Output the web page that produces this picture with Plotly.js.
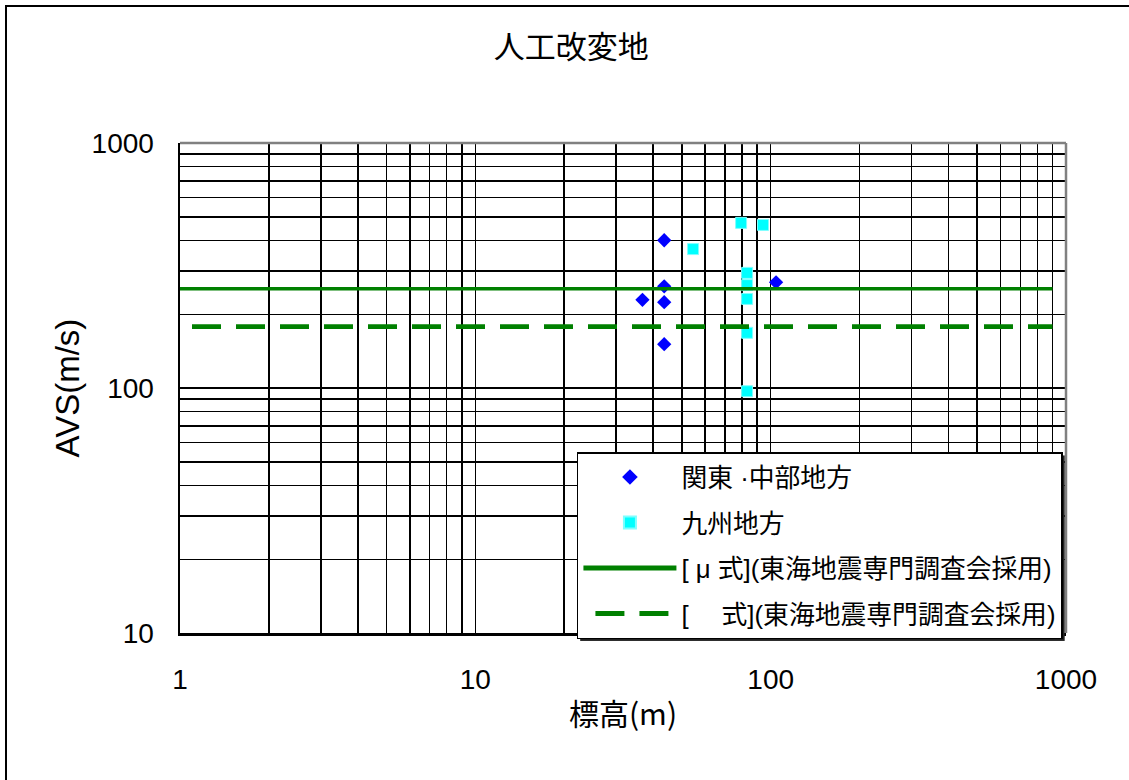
<!DOCTYPE html>
<html>
<head>
<meta charset="utf-8">
<script src="https://cdn.plot.ly/plotly-3.0.1.min.js"></script>
<style>
  html, body { margin: 0; padding: 0; background: #fff; }
  #chart { width: 1129px; height: 780px; position: relative; }
  #frame { position: absolute; left: 5px; top: 5px; width: 1200px; height: 900px;
           border-left: 2px solid #000; border-top: 2px solid #000; pointer-events: none; }
  #wrap { position: relative; width: 1129px; height: 780px; overflow: hidden; }
</style>
</head>
<body>
<div id="wrap">
  <div id="chart"></div>
  <div id="frame"></div>
</div>
<script>
// ---- data ----
const kantoElev = [43.6, 43.6, 36.8, 43.6, 43.6, 104.3];
const kantoAVS  = [401, 260, 229, 224, 151, 270];

const kyushuElev = [79.4, 94.2, 54.6, 83.2, 83.2, 83.2, 83.2, 83.2];
const kyushuAVS  = [472, 463, 369, 295, 263, 231, 168, 97];

const lineX = [1, 900];
const muLine = [254, 254];
const otherLine = [178, 178];

const seriesNames = [
  '関東 ·中部地方',
  '九州地方',
  '[ μ 式](東海地震専門調査会採用)',
  '[　 式](東海地震専門調査会採用)'
];
const titleText = '人工改変地';
const xTitle = '標高(m)';
const yTitle = 'AVS(m/s)';
const xTickVals = [1, 10, 100, 1000];
const yTickVals = [10, 100, 1000];
const xMinorVals = [2,3,4,5,6,7,8,9,20,30,40,50,60,70,80,90,200,300,400,500,600,700,800,900];
const yMinorVals = [20,30,40,50,60,70,80,90,200,300,400,500,600,700,800,900];

const fontFam = '"Liberation Sans", Arial, "Noto Sans CJK JP", sans-serif';
const cjkFam = '"Noto Sans CJK JP", sans-serif';

const traces = [
  { x: kantoElev, y: kantoAVS, name: seriesNames[0], mode: 'markers', type: 'scatter',
    legendgroup: 'a',
    marker: { symbol: 'diamond', size: 11, color: '#0000FF', line: { width: 0 } } },
  { x: kyushuElev, y: kyushuAVS, name: seriesNames[1], mode: 'markers', type: 'scatter',
    legendgroup: 'b',
    marker: { symbol: 'square', size: 11, color: '#00FFFF', line: { width: 1, color: '#7FFFFF' } } },
  { x: lineX, y: muLine, name: seriesNames[2], mode: 'lines', type: 'scatter',
    legendgroup: 'c',
    line: { color: '#008000', width: 3.5 } },
  { x: lineX, y: otherLine, name: seriesNames[3], mode: 'lines', type: 'scatter',
    legendgroup: 'd',
    line: { color: '#008000', width: 4.7, dash: '0px,12px,29px,3px' } }
];

const gridCol = '#000000';
const layout = {
  width: 1129, height: 780,
  margin: { l: 180, r: 63, t: 143, b: 147 },
  paper_bgcolor: '#ffffff', plot_bgcolor: '#ffffff',
  font: { family: fontFam, color: '#000' },
  showlegend: true,
  title: { text: titleText, font: { size: 31, family: cjkFam },
           x: 0.506, xref: 'container', xanchor: 'center',
           y: 1 - 47/780, yref: 'container', yanchor: 'middle' },
  xaxis: {
    type: 'log', range: [0, 3],
    tickmode: 'array', tickvals: xTickVals, ticktext: xTickVals.map(String),
    showgrid: true, gridcolor: gridCol, gridwidth: 1.5,
    minor: { tickmode: 'array', tickvals: xMinorVals, showgrid: true, gridcolor: gridCol, gridwidth: 1.5, ticks: '' },
    showline: true, linecolor: '#000', linewidth: 2.5,
    ticks: '', ticklabelstandoff: 20,
    tickfont: { size: 28, family: fontFam },
    zeroline: false,
    title: { text: xTitle, font: { size: 30, family: cjkFam }, standoff: 10 }
  },
  yaxis: {
    type: 'log', range: [1, 3],
    tickmode: 'array', tickvals: yTickVals, ticktext: yTickVals.map(String),
    showgrid: true, gridcolor: gridCol, gridwidth: 1.5,
    minor: { tickmode: 'array', tickvals: yMinorVals, showgrid: true, gridcolor: gridCol, gridwidth: 1.5, ticks: '' },
    showline: true, linecolor: '#000', linewidth: 2.5,
    ticks: '', ticklabelstandoff: 18,
    tickfont: { size: 28, family: fontFam },
    zeroline: false,
    title: { text: yTitle, font: { size: 33, family: fontFam }, standoff: 2 }
  },
  legend: {
    x: 0.448, xanchor: 'left', y: 0.369, yanchor: 'top',
    bgcolor: '#ffffff', bordercolor: '#000', borderwidth: 1.5,
    font: { size: 25.8, family: '"Liberation Sans", "Noto Sans CJK JP", sans-serif' },
    traceorder: 'grouped', tracegroupgap: 9, itemwidth: 93, itemsizing: 'constant'
  },
  shapes: [
    { type: 'line', xref: 'paper', yref: 'paper', x0: 0, x1: 1, y0: 1, y1: 1,
      line: { color: '#808080', width: 2.5 }, layer: 'above' },
    { type: 'line', xref: 'paper', yref: 'paper', x0: 1, x1: 1, y0: 0, y1: 1,
      line: { color: '#808080', width: 2.5 }, layer: 'above' }
  ]
};

Plotly.newPlot('chart', traces, layout, { displayModeBar: false, staticPlot: true }).then(function (gd) {
  // legend drop shadow (decoration)
  const bg = gd.querySelector('.legend rect.bg');
  if (bg) {
    const ns = 'http://www.w3.org/2000/svg';
    const sh = document.createElementNS(ns, 'rect');
    const w = parseFloat(bg.getAttribute('width'));
    const h = parseFloat(bg.getAttribute('height'));
    sh.setAttribute('x', (parseFloat(bg.getAttribute('x')) || 0) + 2.5);
    sh.setAttribute('y', (parseFloat(bg.getAttribute('y')) || 0) + 2.5);
    sh.setAttribute('width', w);
    sh.setAttribute('height', h);
    sh.setAttribute('fill', '#222');
    const t = bg.getAttribute('transform');
    if (t) sh.setAttribute('transform', t);
    bg.parentNode.insertBefore(sh, bg);
  }
});
</script>
</body>
</html>
